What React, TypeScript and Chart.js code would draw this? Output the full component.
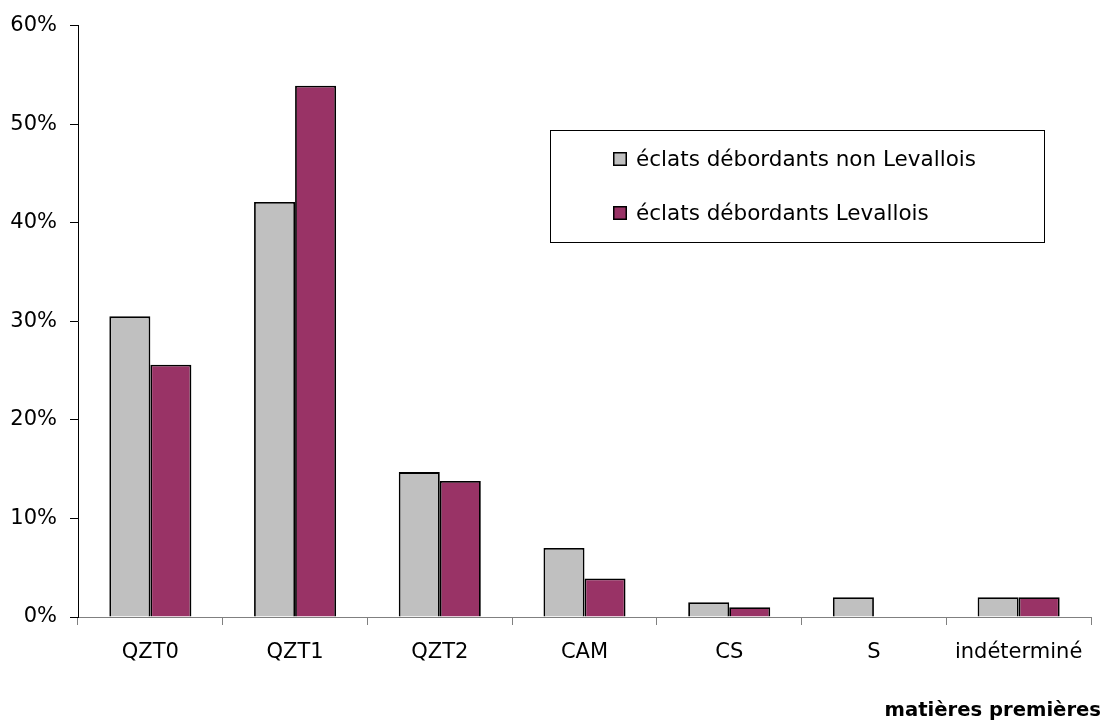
import React, { useEffect, useRef } from "react";
import { Chart, registerables } from "chart.js";

Chart.register(...registerables);

const categories = ["QZT0", "QZT1", "QZT2", "CAM", "CS", "S", "indéterminé"];
const nonLevallois = [30.5, 42.1, 14.7, 7.0, 1.5, 2.0, 2.0];
const levallois = [25.6, 53.9, 13.8, 3.9, 1.0, 0, 2.0];
const seriesLabels = ["éclats débordants non Levallois", "éclats débordants Levallois"];
const seriesColors = ["#C0C0C0", "#993366"];
const yMax = 60;
const yStep = 10;
const xAxisTitle = "matières premières";

const FONT = '"DejaVu Sans", "Liberation Sans", Arial, sans-serif';

const overlayPlugin = {
  id: "overlay",
  afterDraw(chart: any) {
    const ctx = chart.ctx;
    ctx.save();
    // legend box
    ctx.strokeStyle = "#000";
    ctx.lineWidth = 1;
    ctx.strokeRect(550.5, 130.5, 494, 112);
    const rows = [166, 220];
    chart.data.datasets.forEach((ds: any, i: number) => {
      const base = rows[i];
      ctx.fillStyle = ds.backgroundColor;
      ctx.fillRect(613, base - 14, 14, 14);
      ctx.lineWidth = 1.5;
      ctx.strokeStyle = "#000";
      ctx.strokeRect(613.75, base - 13.25, 12.5, 12.5);
      ctx.fillStyle = "#000";
      ctx.font = `21.5px ${FONT}`;
      ctx.textAlign = "left";
      ctx.textBaseline = "alphabetic";
      ctx.fillText(ds.label, 636, base);
    });
    // axis title
    ctx.font = `bold 19.6px ${FONT}`;
    ctx.textAlign = "right";
    ctx.textBaseline = "alphabetic";
    ctx.fillStyle = "#000";
    ctx.fillText(xAxisTitle, 1101, 716);
    ctx.restore();
  },
};

export default function App() {
  const ref = useRef<HTMLCanvasElement | null>(null);
  useEffect(() => {
    if (!ref.current) return;
    Chart.defaults.font.family = FONT;
    Chart.defaults.color = "#000";
    const chart = new Chart(ref.current, {
      type: "bar",
      data: {
        labels: categories,
        datasets: [
          {
            label: seriesLabels[0],
            data: nonLevallois,
            backgroundColor: seriesColors[0],
            borderColor: "#000",
            borderWidth: 1.8,
            borderSkipped: "bottom",
            inflateAmount: 0,
          },
          {
            label: seriesLabels[1],
            data: levallois,
            backgroundColor: seriesColors[1],
            borderColor: "#000",
            borderWidth: 1.8,
            borderSkipped: "bottom",
            inflateAmount: 0,
          },
        ],
      },
      options: {
        responsive: false,
        animation: false,
        devicePixelRatio: 1,
        layout: { padding: { left: 0, top: 23, right: 18, bottom: 0 } },
        datasets: { bar: { categoryPercentage: 0.567, barPercentage: 1 } },
        plugins: {
          legend: { display: false },
          tooltip: { enabled: false },
          title: { display: false },
        },
        scales: {
          x: {
            offset: true,
            grid: {
              display: true,
              offset: true,
              drawOnChartArea: false,
              drawTicks: true,
              tickLength: 8,
              color: "#808080",
              lineWidth: 1,
            },
            border: { display: true, color: "#808080", width: 1 },
            ticks: { font: { size: 21 }, padding: 15, color: "#000", maxRotation: 0, autoSkip: false },
            afterFit(scale: any) {
              scale.height = 105;
            },
          },
          y: {
            min: 0,
            max: yMax,
            grid: {
              display: true,
              drawOnChartArea: false,
              drawTicks: true,
              tickLength: 8,
              color: "#000",
              lineWidth: 1,
            },
            border: { display: true, color: "#000", width: 1 },
            ticks: {
              stepSize: yStep,
              font: { size: 21 },
              padding: 13,
              color: "#000",
              callback: (v: any) => `${v}%`,
            },
            afterFit(scale: any) {
              scale.width = 78;
            },
          },
        },
      },
      plugins: [overlayPlugin],
    } as any);
    return () => chart.destroy();
  }, []);
  return (
    <div style={{ position: "fixed", left: 0, top: 0, width: 1109, height: 722, background: "#fff" }}>
      <canvas ref={ref} width={1109} height={722} style={{ display: "block", width: 1109, height: 722 }} />
    </div>
  );
}
